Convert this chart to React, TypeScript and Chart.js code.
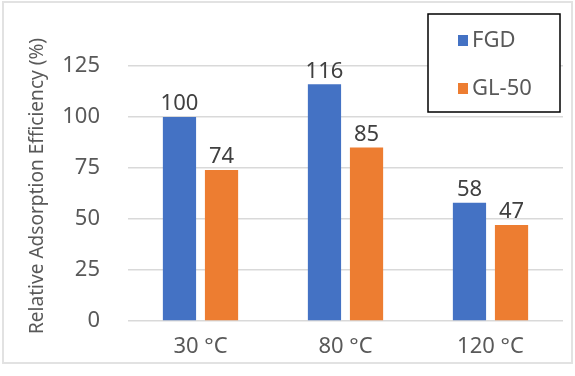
import React, { useEffect, useRef } from "react";
import { Chart, registerables } from "chart.js";

Chart.register(...registerables);

const categories = ["30 °C", "80 °C", "120 °C"];
const fgdValues = [100, 116, 58];
const gl50Values = [74, 85, 47];
const seriesNames = ["FGD", "GL-50"];
const yTicks = [0, 25, 50, 75, 100, 125];
const yTitle = "Relative Adsorption Efficiency (%)";

const FONT = "'Noto Sans', 'Open Sans', sans-serif";
const TEXT = "#595959";

const labelsPlugin = {
  id: "customDraw",
  afterDatasetsDraw(chart: any) {
    const ctx = chart.ctx;
    ctx.save();
    ctx.fillStyle = "#404040";
    ctx.font = `22px ${FONT}`;
    ctx.textAlign = "center";
    ctx.textBaseline = "bottom";
    chart.data.datasets.forEach((ds: any, i: number) => {
      const meta = chart.getDatasetMeta(i);
      meta.data.forEach((el: any, j: number) => {
        ctx.fillText(String(ds.data[j]), el.x, el.y - 2);
      });
    });
    // legend
    const lx = 428, ly = 14, lw = 132, lh = 98;
    ctx.fillStyle = "#ffffff";
    ctx.fillRect(lx, ly, lw, lh);
    ctx.strokeStyle = "#000000";
    ctx.lineWidth = 1.5;
    ctx.strokeRect(lx, ly, lw, lh);
    ctx.textAlign = "left";
    ctx.textBaseline = "middle";
    ctx.font = `22px ${FONT}`;
    chart.data.datasets.forEach((ds: any, i: number) => {
      const cy = 40 + i * 48;
      ctx.fillStyle = ds.backgroundColor;
      ctx.fillRect(458, cy - 5, 10, 11);
      ctx.fillStyle = TEXT;
      ctx.fillText(ds.label, 472, cy + 1);
    });
    // y title
    ctx.translate(38, 186);
    ctx.rotate(-Math.PI / 2);
    ctx.font = `19px ${FONT}`;
    ctx.textAlign = "center";
    ctx.textBaseline = "middle";
    const w = ctx.measureText(yTitle).width;
    const target = 296;
    ctx.scale(target / w, 1);
    ctx.fillStyle = TEXT;
    ctx.fillText(yTitle, 0, 0);
    ctx.restore();
  },
};

export default function App() {
  const ref = useRef<HTMLCanvasElement>(null);
  useEffect(() => {
    document.body.style.margin = "0";
    const chart = new Chart(ref.current!, {
      type: "bar",
      data: {
        labels: categories,
        datasets: [
          {
            label: seriesNames[0],
            data: fgdValues,
            backgroundColor: "#4472C4",
            categoryPercentage: 0.58,
            barPercentage: 0.79,
          },
          {
            label: seriesNames[1],
            data: gl50Values,
            backgroundColor: "#ED7D31",
            categoryPercentage: 0.58,
            barPercentage: 0.79,
          },
        ],
      },
      options: {
        animation: false,
        responsive: false,
        maintainAspectRatio: false,
        layout: { padding: { left: 0, top: 66, right: 12, bottom: 0 } },
        plugins: {
          legend: { display: false },
          tooltip: { enabled: false },
        },
        scales: {
          x: {
            grid: { display: false },
            border: { display: false },
            ticks: {
              color: TEXT,
              font: { family: FONT, size: 22 },
              padding: 5,
            },
            afterFit: (s: any) => {
              s.height = 376 - 321;
            },
          },
          y: {
            min: 0,
            max: 125,
            afterBuildTicks: (s: any) => {
              s.ticks = yTicks.map((v) => ({ value: v }));
            },
            grid: { color: "#d9d9d9", lineWidth: 1.5, drawTicks: false },
            border: { display: false },
            ticks: {
              color: TEXT,
              font: { family: FONT, size: 22 },
              padding: 28,
            },
            afterFit: (s: any) => {
              s.width = 128;
            },
          },
        },
      },
      plugins: [labelsPlugin],
    });
    return () => chart.destroy();
  }, []);
  return (
    <div style={{ position: "relative", width: 575, height: 376, background: "#fff" }}>
      <canvas ref={ref} width={575} height={376} style={{ display: "block" }} />
      <div
        style={{
          position: "absolute",
          left: 2,
          top: 1,
          width: 571,
          height: 363,
          border: "2px solid #e2e2e2",
          boxSizing: "border-box",
          pointerEvents: "none",
        }}
      />
    </div>
  );
}
